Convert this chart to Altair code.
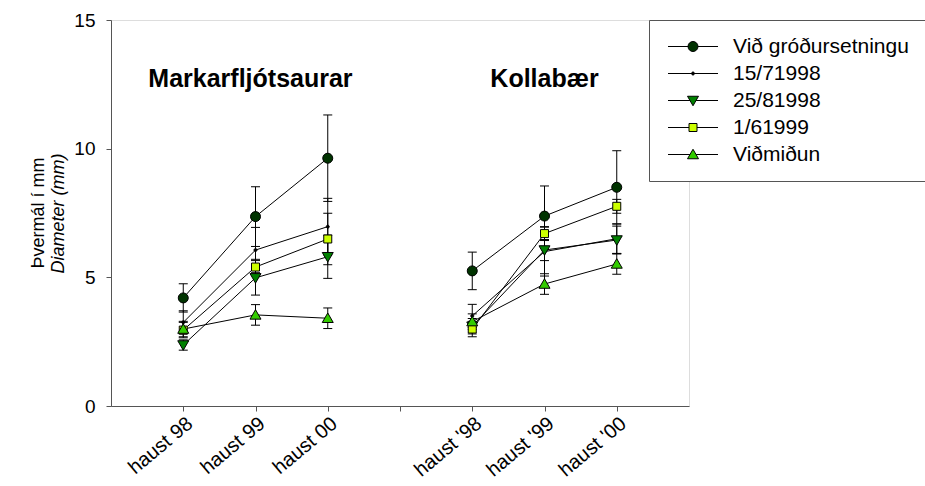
import json
import altair as alt
import pandas as pd

# ---- data ----
series = ["Við gróðursetningu", "15/71998", "25/81998", "1/61999", "Viðmiðun"]
x_pos = [1, 2, 3, 5, 6, 7]
site = ["Markarfljótsaurar"] * 3 + ["Kollabær"] * 3

mean_vid = [4.20, 7.36, 9.63, 5.25, 7.38, 8.50]
mean_1571 = [3.25, 6.06, 6.97, 3.50, 6.00, 6.50]
mean_2581 = [2.37, 4.98, 5.80, 3.10, 6.06, 6.45]
mean_0161 = [2.95, 5.40, 6.49, 2.99, 6.70, 7.76]
mean_vidm = [2.99, 3.54, 3.41, 3.28, 4.74, 5.52]

err_vid = [0.55, 1.16, 1.68, 0.73, 1.17, 1.42]
err_1571 = [0.45, 0.88, 1.10, 0.45, 0.95, 0.57]
err_2581 = [0.20, 0.67, 0.84, 0.30, 0.41, 0.54]
err_0161 = [0.30, 0.30, 1.00, 0.30, 0.27, 0.27]
err_vidm = [0.30, 0.40, 0.40, 0.30, 0.40, 0.40]

tick_values = [1, 2, 3, 4, 5, 6, 7]
tick_labels = ["haust 98", "haust 99", "haust 00", "", "haust '98", "haust '99", "haust '00"]

group_names = ["Markarfljótsaurar", "Kollabær"]
group_centers = [1.93, 6.0]

means = [mean_vid, mean_1571, mean_2581, mean_0161, mean_vidm]
errs = [err_vid, err_1571, err_2581, err_0161, err_vidm]

rows = []
for s, m, e in zip(series, means, errs):
    for i, x in enumerate(x_pos):
        rows.append({"series": s, "x": x, "site": site[i], "y": m[i],
                     "lo": m[i] - e[i], "hi": m[i] + e[i]})
df = pd.DataFrame(rows)
titles_df = pd.DataFrame({"name": group_names, "x": group_centers})

# ---- styling ----
FONT = "Liberation Sans"
colors = ["#003300", "#000000", "#008000", "#ccff00", "#33cc00"]

circ = "M1,0A1,1,0,1,1,-1,0A1,1,0,1,1,1,0Z"
dot = "M0.3,0A0.3,0.3,0,1,1,-0.3,0A0.3,0.3,0,1,1,0.3,0Z"
tdown = "M-1.1,-0.85L1.1,-0.85L0,1.05Z"
sq = "M-0.8,-0.8L0.8,-0.8L0.8,0.8L-0.8,0.8Z"
tup = "M-1.1,0.85L1.1,0.85L0,-1.05Z"
shapes = [circ, dot, tdown, sq, tup]

# legend symbols: line from -1.5 to 8.5 units with marker centred at 3.5 units
c4 = "M4.5,0A1,1,0,1,1,2.5,0A1,1,0,1,1,4.5,0Z"
d4 = "M3.8,0A0.3,0.3,0,1,1,3.2,0A0.3,0.3,0,1,1,3.8,0Z"
td4 = "M2.4,-0.85L4.6,-0.85L3.5,1.05Z"
sq4 = "M2.7,-0.8L4.3,-0.8L4.3,0.8L2.7,0.8Z"
tu4 = "M2.4,0.85L4.6,0.85L3.5,-1.05Z"
leg_shapes = [
    "M-1.5,0L2.5,0M4.5,0L8.5,0" + c4,
    "M-1.5,0L8.5,0" + d4,
    "M-1.5,0L2.89,0M4.11,0L8.5,0" + td4,
    "M-1.5,0L2.7,0M4.3,0L8.5,0" + sq4,
    "M-1.5,0L2.89,0M4.11,0L8.5,0" + tu4,
]

label_map = json.dumps({str(v): l for v, l in zip(tick_values, tick_labels)})

xscale = alt.Scale(domain=[0, 8], nice=False, zero=False)
yscale = alt.Scale(domain=[0, 15], nice=False, zero=False)

X = alt.X("x:Q", scale=xscale, axis=alt.Axis(
    values=tick_values, labelExpr=f"{label_map}[datum.value]", title=None,
    labelAngle=320, labelFontSize=20, labelFont=FONT, labelColor="black",
    labelOverlap=False, labelBound=False,
    tickSize=5, tickColor="#555", domainColor="#555", grid=False, labelPadding=2))
Y = alt.Y("y:Q", scale=yscale, axis=alt.Axis(
    values=[0, 5, 10, 15], title="Diameter (mm)", titleFontStyle="italic",
    titleFontWeight="normal", titleFontSize=18, titleFont=FONT, titleColor="black",
    titlePadding=6, labelFontSize=19, labelFont=FONT, labelColor="black",
    tickSize=5, tickColor="#555", domainColor="#555", grid=False, labelPadding=11))

lines = alt.Chart(df).mark_line(color="black", strokeWidth=1).encode(
    x=X, y=Y, detail=["series:N", "site:N"], order="x:Q")

bars = alt.Chart(df).mark_rule(color="black", strokeWidth=1).encode(
    x="x:Q", y="lo:Q", y2="hi:Q")

caps = alt.Chart(df).transform_fold(["lo", "hi"], as_=["k", "v"]).mark_point(
    shape="M-1,0L1,0", size=81, filled=False, color="black", strokeWidth=1, opacity=1
).encode(x="x:Q", y="v:Q")

point_layers = []
for s, shp, col in zip(series, shapes, colors):
    point_layers.append(
        alt.Chart(df).transform_filter(alt.datum.series == s).mark_point(
            shape=shp, filled=True, fill=col, stroke="black", strokeWidth=1,
            size=100, opacity=1).encode(x="x:Q", y="y:Q"))

legend = alt.Legend(title=None, orient="none", legendX=538, legendY=0,
                    strokeColor="#555", fillColor="white", padding=16,
                    labelFontSize=21, labelFont=FONT, labelColor="black",
                    labelOffset=47, labelLimit=0, rowPadding=5, symbolSize=100,
                    symbolStrokeColor="black", symbolStrokeWidth=1, symbolOpacity=1)

leg_layer = alt.Chart(df).mark_point(filled=True, strokeWidth=1,
                                     size=100, opacity=0).encode(
    x="x:Q", y="y:Q",
    shape=alt.Shape("series:N", scale=alt.Scale(domain=series, range=leg_shapes),
                    legend=legend, sort=series),
    fill=alt.Fill("series:N", scale=alt.Scale(domain=series, range=colors),
                  legend=legend, sort=series),
    stroke=alt.Stroke("series:N", scale=alt.Scale(domain=series, range=["#000000"] * 5),
                      legend=legend, sort=series))

titles = alt.Chart(titles_df).mark_text(font=FONT, fontSize=25, fontWeight="bold",
                                        color="black", baseline="middle").encode(
    x="x:Q", y=alt.datum(12.7), text="name:N")

chart = alt.layer(lines, bars, caps, *point_layers, titles, leg_layer).properties(
    width=578, height=386,
    autosize=alt.AutoSizeParams(type="none"),
    padding={"left": 111, "top": 20, "right": 236, "bottom": 80},
    title=alt.TitleParams("Þvermál í mm", orient="left", anchor="middle",
                          fontSize=18, font=FONT, fontWeight="normal",
                          color="black", offset=2),
).configure_view(stroke="#555", strokeWidth=1).configure(background="white")

chart.save("out.html", embed_options={"renderer": "svg", "actions": False})
